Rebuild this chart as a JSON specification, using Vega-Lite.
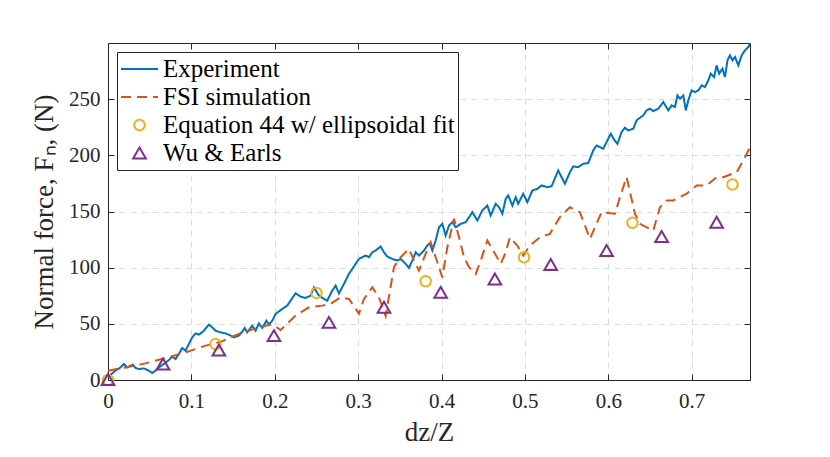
{
  "$schema": "https://vega.github.io/schema/vega-lite/v6.json",
  "width": 642,
  "height": 337,
  "autosize": {"type": "none"},
  "padding": {"left": 108, "top": 43, "right": 80, "bottom": 77},
  "background": "white",
  "datasets": {
    "experiment": [
      {"dz": 0, "F": 2.9}, {"dz": 0.003, "F": 4.7}, {"dz": 0.009, "F": 8.3}, {"dz": 0.015, "F": 11.2},
      {"dz": 0.019, "F": 14.3}, {"dz": 0.023, "F": 11.2}, {"dz": 0.027, "F": 12.7}, {"dz": 0.03, "F": 13.6},
      {"dz": 0.033, "F": 10.7}, {"dz": 0.037, "F": 9.8}, {"dz": 0.043, "F": 10.3}, {"dz": 0.049, "F": 8.3},
      {"dz": 0.053, "F": 6.2}, {"dz": 0.057, "F": 8.3}, {"dz": 0.061, "F": 11.2}, {"dz": 0.067, "F": 14.3},
      {"dz": 0.073, "F": 17.8}, {"dz": 0.077, "F": 20.8}, {"dz": 0.081, "F": 18.7}, {"dz": 0.085, "F": 23.2},
      {"dz": 0.089, "F": 28.5}, {"dz": 0.093, "F": 26.1}, {"dz": 0.097, "F": 32.1}, {"dz": 0.101, "F": 38},
      {"dz": 0.105, "F": 41.5}, {"dz": 0.109, "F": 40.4}, {"dz": 0.115, "F": 43.9}, {"dz": 0.121, "F": 49.3},
      {"dz": 0.125, "F": 46.9}, {"dz": 0.129, "F": 43.9}, {"dz": 0.135, "F": 42.4}, {"dz": 0.141, "F": 41.5},
      {"dz": 0.147, "F": 39.5}, {"dz": 0.151, "F": 38}, {"dz": 0.157, "F": 39.5}, {"dz": 0.161, "F": 43},
      {"dz": 0.164, "F": 46.3}, {"dz": 0.167, "F": 42.4}, {"dz": 0.173, "F": 48.4}, {"dz": 0.177, "F": 43.9},
      {"dz": 0.181, "F": 50.4}, {"dz": 0.185, "F": 46.3}, {"dz": 0.19, "F": 52.8}, {"dz": 0.193, "F": 49.3},
      {"dz": 0.197, "F": 52.8}, {"dz": 0.201, "F": 58.8}, {"dz": 0.209, "F": 63.3}, {"dz": 0.215, "F": 66.2},
      {"dz": 0.219, "F": 70.7}, {"dz": 0.225, "F": 77.2}, {"dz": 0.231, "F": 74.2}, {"dz": 0.237, "F": 73.1},
      {"dz": 0.243, "F": 75.1}, {"dz": 0.247, "F": 82.5}, {"dz": 0.253, "F": 75.1}, {"dz": 0.259, "F": 72.2},
      {"dz": 0.263, "F": 70.7}, {"dz": 0.269, "F": 79.6}, {"dz": 0.273, "F": 84}, {"dz": 0.277, "F": 77},
      {"dz": 0.283, "F": 85.6}, {"dz": 0.289, "F": 94.5}, {"dz": 0.293, "F": 98.9}, {"dz": 0.297, "F": 103.4},
      {"dz": 0.301, "F": 107.8}, {"dz": 0.305, "F": 109.3}, {"dz": 0.309, "F": 110.8}, {"dz": 0.313, "F": 109.3},
      {"dz": 0.317, "F": 113.7}, {"dz": 0.321, "F": 115.3}, {"dz": 0.327, "F": 118.8}, {"dz": 0.331, "F": 113.7},
      {"dz": 0.335, "F": 109.9}, {"dz": 0.341, "F": 107.8}, {"dz": 0.347, "F": 106.3}, {"dz": 0.351, "F": 107.8},
      {"dz": 0.357, "F": 103.4}, {"dz": 0.361, "F": 99.8}, {"dz": 0.365, "F": 106.3}, {"dz": 0.369, "F": 113.7},
      {"dz": 0.373, "F": 110.8}, {"dz": 0.379, "F": 115.3}, {"dz": 0.383, "F": 119.7}, {"dz": 0.386, "F": 121.7},
      {"dz": 0.389, "F": 115.3}, {"dz": 0.393, "F": 124.2}, {"dz": 0.397, "F": 136}, {"dz": 0.401, "F": 139},
      {"dz": 0.405, "F": 128.6}, {"dz": 0.409, "F": 137.5}, {"dz": 0.413, "F": 140.5}, {"dz": 0.417, "F": 136},
      {"dz": 0.423, "F": 139}, {"dz": 0.429, "F": 140.5}, {"dz": 0.433, "F": 144.9}, {"dz": 0.437, "F": 149.4},
      {"dz": 0.443, "F": 142}, {"dz": 0.449, "F": 150.9}, {"dz": 0.455, "F": 155.3}, {"dz": 0.459, "F": 146.4},
      {"dz": 0.465, "F": 156.9}, {"dz": 0.469, "F": 153.8}, {"dz": 0.473, "F": 148}, {"dz": 0.477, "F": 161.3},
      {"dz": 0.48, "F": 164.3}, {"dz": 0.485, "F": 155.3}, {"dz": 0.489, "F": 162.7}, {"dz": 0.492, "F": 156.9},
      {"dz": 0.498, "F": 165.8}, {"dz": 0.503, "F": 158.3}, {"dz": 0.509, "F": 168.7}, {"dz": 0.515, "F": 170.2},
      {"dz": 0.52, "F": 173.2}, {"dz": 0.527, "F": 171.7}, {"dz": 0.532, "F": 172.5}, {"dz": 0.54, "F": 186.5},
      {"dz": 0.548, "F": 174.7}, {"dz": 0.554, "F": 185}, {"dz": 0.558, "F": 190.1}, {"dz": 0.564, "F": 189.5},
      {"dz": 0.57, "F": 192.5}, {"dz": 0.576, "F": 193.1}, {"dz": 0.582, "F": 204.4}, {"dz": 0.586, "F": 208.8},
      {"dz": 0.594, "F": 205.9}, {"dz": 0.598, "F": 211.8}, {"dz": 0.603, "F": 219.2}, {"dz": 0.607, "F": 213.9},
      {"dz": 0.611, "F": 210.3}, {"dz": 0.616, "F": 220.7}, {"dz": 0.62, "F": 224.6}, {"dz": 0.624, "F": 222.2},
      {"dz": 0.63, "F": 223.7}, {"dz": 0.634, "F": 231.1}, {"dz": 0.638, "F": 233.5}, {"dz": 0.642, "F": 235.6},
      {"dz": 0.646, "F": 240}, {"dz": 0.65, "F": 241.5}, {"dz": 0.654, "F": 239.4}, {"dz": 0.66, "F": 241.5},
      {"dz": 0.666, "F": 247.4}, {"dz": 0.672, "F": 240}, {"dz": 0.676, "F": 244.5}, {"dz": 0.68, "F": 243},
      {"dz": 0.683, "F": 253.4}, {"dz": 0.686, "F": 250.4}, {"dz": 0.69, "F": 253.4}, {"dz": 0.693, "F": 240},
      {"dz": 0.696, "F": 248.9}, {"dz": 0.7, "F": 257.8}, {"dz": 0.704, "F": 256.3}, {"dz": 0.708, "F": 257.8},
      {"dz": 0.712, "F": 262.3}, {"dz": 0.716, "F": 260.8}, {"dz": 0.72, "F": 266.8}, {"dz": 0.723, "F": 272.7},
      {"dz": 0.727, "F": 269.7}, {"dz": 0.73, "F": 280.1}, {"dz": 0.733, "F": 272.7}, {"dz": 0.737, "F": 277.2},
      {"dz": 0.74, "F": 269.7}, {"dz": 0.743, "F": 284.6}, {"dz": 0.746, "F": 289}, {"dz": 0.749, "F": 284.6},
      {"dz": 0.752, "F": 287.6}, {"dz": 0.756, "F": 280.1}, {"dz": 0.76, "F": 289}, {"dz": 0.764, "F": 293.5},
      {"dz": 0.768, "F": 296.4}, {"dz": 0.772, "F": 302.4}
    ],
    "fsi": [
      {"dz": 0, "F": 8.3}, {"dz": 0.021, "F": 11.2}, {"dz": 0.045, "F": 14.8}, {"dz": 0.069, "F": 19.6},
      {"dz": 0.093, "F": 24.6}, {"dz": 0.117, "F": 30.6}, {"dz": 0.135, "F": 34}, {"dz": 0.157, "F": 41},
      {"dz": 0.181, "F": 46.9}, {"dz": 0.197, "F": 49.5}, {"dz": 0.207, "F": 44.5}, {"dz": 0.225, "F": 57.3},
      {"dz": 0.241, "F": 64.7}, {"dz": 0.257, "F": 66.2}, {"dz": 0.267, "F": 67.7}, {"dz": 0.279, "F": 73.6},
      {"dz": 0.289, "F": 72.2}, {"dz": 0.301, "F": 59}, {"dz": 0.307, "F": 72.2}, {"dz": 0.317, "F": 82.5},
      {"dz": 0.325, "F": 73.6}, {"dz": 0.333, "F": 57}, {"dz": 0.343, "F": 100.4}, {"dz": 0.349, "F": 107.8},
      {"dz": 0.361, "F": 116.8}, {"dz": 0.367, "F": 106.3}, {"dz": 0.373, "F": 97.4}, {"dz": 0.381, "F": 112.3},
      {"dz": 0.387, "F": 122.6}, {"dz": 0.395, "F": 104.8}, {"dz": 0.401, "F": 91.4}, {"dz": 0.407, "F": 118.2},
      {"dz": 0.415, "F": 143.5}, {"dz": 0.421, "F": 127}, {"dz": 0.427, "F": 109.3}, {"dz": 0.433, "F": 100.4},
      {"dz": 0.441, "F": 94.5}, {"dz": 0.447, "F": 106.3}, {"dz": 0.455, "F": 124.2}, {"dz": 0.462, "F": 115.3},
      {"dz": 0.471, "F": 103.4}, {"dz": 0.477, "F": 113.7}, {"dz": 0.482, "F": 127}, {"dz": 0.491, "F": 119.7},
      {"dz": 0.498, "F": 110.8}, {"dz": 0.506, "F": 119.7}, {"dz": 0.518, "F": 127}, {"dz": 0.53, "F": 130.1},
      {"dz": 0.542, "F": 145}, {"dz": 0.554, "F": 153.8}, {"dz": 0.566, "F": 149.4}, {"dz": 0.578, "F": 125.7},
      {"dz": 0.592, "F": 149.4}, {"dz": 0.608, "F": 148}, {"dz": 0.614, "F": 162.7}, {"dz": 0.622, "F": 180.6},
      {"dz": 0.627, "F": 164.3}, {"dz": 0.632, "F": 148}, {"dz": 0.638, "F": 139}, {"dz": 0.654, "F": 133},
      {"dz": 0.662, "F": 153.8}, {"dz": 0.67, "F": 159.8}, {"dz": 0.678, "F": 159.8}, {"dz": 0.694, "F": 165.8},
      {"dz": 0.706, "F": 173.2}, {"dz": 0.718, "F": 173.2}, {"dz": 0.73, "F": 180.6}, {"dz": 0.738, "F": 180.6},
      {"dz": 0.754, "F": 185}, {"dz": 0.764, "F": 198.4}, {"dz": 0.772, "F": 210}
    ],
    "eq44": [
      {"dz": 0, "F": 0}, {"dz": 0.129, "F": 32}, {"dz": 0.25, "F": 77.5}, {"dz": 0.381, "F": 87.9},
      {"dz": 0.499, "F": 109.3}, {"dz": 0.629, "F": 139.9}, {"dz": 0.749, "F": 174}
    ],
    "wu": [
      {"dz": 0, "F": 0.5}, {"dz": 0.066, "F": 14.3}, {"dz": 0.133, "F": 26.7}, {"dz": 0.199, "F": 39.5},
      {"dz": 0.265, "F": 51.3}, {"dz": 0.331, "F": 64.7}, {"dz": 0.399, "F": 78}, {"dz": 0.464, "F": 90},
      {"dz": 0.531, "F": 102.8}, {"dz": 0.598, "F": 115.2}, {"dz": 0.664, "F": 127.7}, {"dz": 0.73, "F": 140.5}
    ]
  },
  "layer": [
    {
      "data": {"name": "experiment"},
      "mark": {"type": "line", "strokeWidth": 2, "clip": true},
      "encoding": {
        "x": {
          "field": "dz", "type": "quantitative",
          "scale": {"domain": [0, 0.77], "nice": false, "zero": false},
          "axis": {"values": [0, 0.1, 0.2, 0.3, 0.4, 0.5, 0.6, 0.7], "format": "~g", "title": "dz/Z", "titlePadding": 8, "labelPadding": 16, "labelFlush": false}
        },
        "y": {
          "field": "F", "type": "quantitative",
          "scale": {"domain": [0, 300], "nice": false},
          "axis": {"values": [0, 50, 100, 150, 200, 250], "title": "Normal force, Fₙ, (N)", "titlePadding": 10, "labelPadding": 14, "labelFlush": false}
        },
        "color": {
          "datum": "Experiment", "type": "nominal",
          "scale": {"domain": ["Experiment", "FSI simulation", "Equation 44 w/ ellipsoidal fit", "Wu & Earls"], "range": ["#0072BD", "#D95319", "#EDB120", "#7E2F8E"]}
        },
        "strokeDash": {
          "datum": "Experiment", "type": "nominal",
          "scale": {"domain": ["Experiment", "FSI simulation", "Equation 44 w/ ellipsoidal fit", "Wu & Earls"], "range": [[1, 0], [10, 6], [1, 0], [1, 0]]}
        }
      }
    },
    {
      "data": {"name": "fsi"},
      "mark": {"type": "line", "strokeWidth": 2, "clip": true},
      "encoding": {
        "x": {"field": "dz", "type": "quantitative", "axis": null},
        "y": {"field": "F", "type": "quantitative", "axis": null},
        "color": {
          "datum": "FSI simulation", "type": "nominal",
          "scale": {"domain": ["Experiment", "FSI simulation", "Equation 44 w/ ellipsoidal fit", "Wu & Earls"], "range": ["#0072BD", "#D95319", "#EDB120", "#7E2F8E"]}
        },
        "strokeDash": {
          "datum": "FSI simulation", "type": "nominal",
          "scale": {"domain": ["Experiment", "FSI simulation", "Equation 44 w/ ellipsoidal fit", "Wu & Earls"], "range": [[1, 0], [10, 6], [1, 0], [1, 0]]}
        }
      }
    },
    {
      "data": {"name": "eq44"},
      "mark": {"type": "point", "filled": false, "strokeWidth": 2, "opacity": 1, "clip": false},
      "encoding": {
        "x": {"field": "dz", "type": "quantitative", "axis": null},
        "y": {"field": "F", "type": "quantitative", "axis": null},
        "color": {
          "datum": "Equation 44 w/ ellipsoidal fit", "type": "nominal",
          "scale": {"domain": ["Experiment", "FSI simulation", "Equation 44 w/ ellipsoidal fit", "Wu & Earls"], "range": ["#0072BD", "#D95319", "#EDB120", "#7E2F8E"]}
        },
        "shape": {
          "datum": "Equation 44 w/ ellipsoidal fit", "type": "nominal",
          "scale": {"domain": ["Experiment", "FSI simulation", "Equation 44 w/ ellipsoidal fit", "Wu & Earls"], "range": ["stroke", "stroke", "circle", "triangle-up"]}
        },
        "size": {
          "datum": "Equation 44 w/ ellipsoidal fit", "type": "nominal",
          "scale": {"type": "ordinal", "domain": ["Experiment", "FSI simulation", "Equation 44 w/ ellipsoidal fit", "Wu & Earls"], "range": [1369, 1369, 110, 160]}
        }
      }
    },
    {
      "data": {"name": "wu"},
      "mark": {"type": "point", "filled": false, "strokeWidth": 2, "opacity": 1, "clip": false},
      "encoding": {
        "x": {
          "field": "dz", "type": "quantitative",
          "axis": {"orient": "top", "values": [0, 0.1, 0.2, 0.3, 0.4, 0.5, 0.6, 0.7], "labels": false, "grid": false, "domain": false, "title": null}
        },
        "y": {
          "field": "F", "type": "quantitative",
          "axis": {"orient": "right", "values": [0, 50, 100, 150, 200, 250], "labels": false, "grid": false, "domain": false, "title": null}
        },
        "color": {
          "datum": "Wu & Earls", "type": "nominal",
          "scale": {"domain": ["Experiment", "FSI simulation", "Equation 44 w/ ellipsoidal fit", "Wu & Earls"], "range": ["#0072BD", "#D95319", "#EDB120", "#7E2F8E"]}
        },
        "shape": {
          "datum": "Wu & Earls", "type": "nominal",
          "scale": {"domain": ["Experiment", "FSI simulation", "Equation 44 w/ ellipsoidal fit", "Wu & Earls"], "range": ["stroke", "stroke", "circle", "triangle-up"]}
        },
        "size": {
          "datum": "Wu & Earls", "type": "nominal",
          "scale": {"type": "ordinal", "domain": ["Experiment", "FSI simulation", "Equation 44 w/ ellipsoidal fit", "Wu & Earls"], "range": [1369, 1369, 110, 160]}
        }
      }
    }
  ],
  "resolve": {"axis": {"x": "independent", "y": "independent"}},
  "config": {
    "view": {"stroke": "#262626", "strokeWidth": 1},
    "axis": {
      "labelFont": "Liberation Serif", "titleFont": "Liberation Serif",
      "labelFontSize": 21, "titleFontSize": 27, "titleFontWeight": "normal",
      "labelColor": "#262626", "titleColor": "#262626",
      "domainColor": "#262626", "tickColor": "#262626", "tickSize": -6,
      "gridColor": "#dcdcdc", "gridDash": [6, 5]
    },
    "legend": {
      "orient": "top-left", "offset": 9, "padding": 3, "title": null,
      "strokeColor": "#262626", "fillColor": "white",
      "labelFont": "Liberation Serif", "labelFontSize": 25, "labelColor": "black",
      "labelLimit": 500, "labelOffset": 4, "symbolStrokeWidth": 2,
      "rowPadding": 0, "clipHeight": 28
    }
  }
}
